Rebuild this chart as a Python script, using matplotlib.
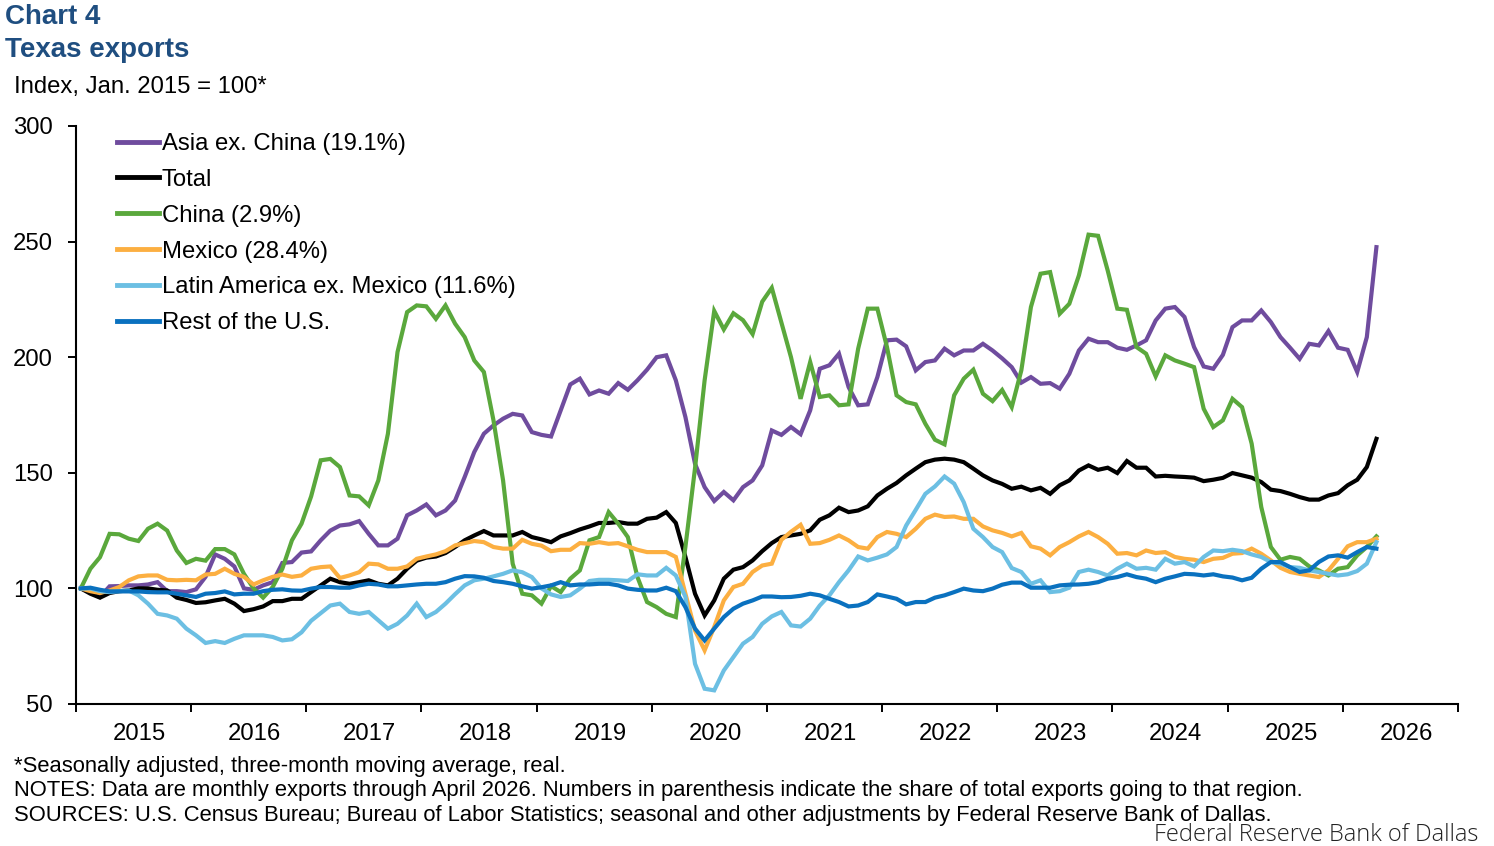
"""
Texas exports by destination, index Jan. 2015 = 100 (Dallas Fed, Chart 4).
"""

import numpy as np
import matplotlib
matplotlib.use("Agg")
import matplotlib.pyplot as plt

# monthly values Jan 2015 .. Apr 2026 (136 months)
asia = [100, 98.4, 96.3, 100.9, 101, 101.3, 101.3, 101.7, 102.7, 98.8, 98.8, 98.4, 99.6, 105, 114.7, 112.8, 109.5, 100, 99.4, 101.3, 102.7, 111, 111.4, 115.5, 116,
        120.8, 125, 127.2, 127.7, 129.1, 123.6, 118.6, 118.6, 121.5, 131.6, 133.7, 136.3, 131.6, 133.7, 138, 148.2, 159, 166.9, 170.5, 173.4, 175.5, 174.8, 167.6,
        166.4, 165.7, 177, 188.2, 190.7, 183.9, 185.6, 184.2, 188.8, 185.9, 190, 194.6, 200, 200.8, 190, 174.1, 153.9, 143.8, 137.8, 141.7, 138.1, 143.8, 146.7, 153.2, 168.3,
        166.4, 169.8, 166.7, 177, 195, 196.5, 201.5, 187.1, 179.2, 179.6, 191.4, 207.3, 207.6, 204.7, 194.3, 197.9, 198.6, 203.7, 200.8, 202.9, 202.9, 205.8, 202.9,
        199.5, 195.7, 189, 191.4, 188.5, 188.8, 186.4, 192.8, 202.9, 208, 206.5, 206.5, 204.1, 203.2, 205.1, 207.3, 215.9, 221, 221.7, 217.4, 204.4, 196, 195,
        201, 213, 215.9, 215.9, 220.2, 215.2, 208.7, 204.1, 199.3, 205.8, 205.1, 211.3, 204.1, 203.2, 193.6, 208.7, 247.6]

total = [100, 97.7, 96, 98, 98.8, 99.1, 100, 100, 99.4, 99.1, 96, 95, 93.7, 94, 94.8, 95.5, 93.4, 90.2, 91, 92.2, 94.5, 94.5, 95.5, 95.5, 98.4,
         101.3, 104.2, 102.7, 102, 102.7, 103.5, 102, 101.3, 104.2, 108.5, 112, 113.3, 113.8, 115.3, 117.9, 120.8, 122.9, 124.8, 122.9, 122.9, 122.9, 124.4, 122.2,
         121.2, 120, 122.5, 123.9, 125.5, 126.8, 128.3, 128.3, 128.7, 128, 128, 130.1, 130.6, 133, 128.3, 113.6, 97.7, 88.3, 94.8, 104.2, 108.1, 109.2, 112.1, 116.1, 119.6,
         122.2, 122.9, 123.6, 125.1, 129.7, 131.6, 134.9, 133, 133.7, 135.5, 140.2, 143.1, 145.6, 148.9, 151.8, 154.6, 155.7, 156.1, 155.7, 154.6, 151.8, 148.9, 146.7,
         145.2, 143.1, 144, 142.4, 143.5, 140.9, 144.6, 146.7, 151, 153.2, 151.3, 152.2, 149.9, 155.1, 152.2, 152.2, 148.4, 148.7, 148.4, 148.2, 147.9, 146.4, 147,
         147.8, 149.9, 148.9, 147.9, 146, 142.7, 142.1, 140.9, 139.5, 138.4, 138.4, 140.2, 141.2, 144.6, 147, 152.5, 164.7]

china = [100, 108.5, 113.5, 123.6, 123.4, 121.5, 120.5, 125.8, 128, 125, 116.4, 111, 112.8, 112, 117, 117, 114.7, 106.3, 100, 96, 100.6, 108.5, 120.8, 128, 139.8,
         155.4, 156, 152.5, 140.2, 139.8, 135.9, 146.7, 166.9, 202.2, 219.5, 222.4, 222, 216.6, 222.4, 214.5, 208.7, 198.6, 193.6, 172.7, 146.7, 110.7, 97.7, 97,
         93.4, 101, 98.4, 104.2, 107.8, 120.8, 122.2, 133, 128, 122.2, 104.9, 94.1, 91.9, 89, 87.6, 118, 152, 190, 220, 212, 219, 216, 210, 224, 230,
         215, 200, 182, 197.9, 182.8, 183.5, 179.2, 179.6, 203.7, 221, 221, 204.4, 183.5, 180.6, 179.6, 171.2, 164.3, 162.3, 183.5, 190.7, 194.6, 184.2, 181,
         185.8, 178.4, 194.3, 221.7, 236.1, 236.8, 218.8, 223.1, 235.4, 253, 252.5, 237.5, 221, 220.5, 204.4, 201.5, 191.7, 200.8, 198.6, 197.2, 195.7, 177.7, 169.8,
         172.7, 182, 178.4, 162.6, 135.2, 117.9, 112.4, 113.6, 112.8, 109.5, 107.8, 105.6, 108.5, 109.2, 114.3, 117.9, 122.5]

mexico = [100, 98.8, 98, 99.1, 100.6, 103.5, 105.2, 105.6, 105.6, 103.7, 103.5, 103.7, 103.5, 106, 106.3, 108.5, 106.3, 105, 101.7, 103.5, 105, 106, 105, 105.6, 108.5,
          109.2, 109.5, 104.5, 105.6, 107, 110.7, 110.4, 108.5, 108.5, 109.5, 112.8, 113.8, 114.7, 116.1, 118.6, 119.6, 120.5, 120, 117.9, 117.2, 117.2, 121, 119.3,
          118.5, 116.1, 116.7, 116.7, 119.6, 119.3, 120, 119.3, 119.6, 118.2, 116.7, 115.7, 115.7, 115.7, 113.6, 97.7, 81.8, 73.2, 83.3, 94.8, 100.6, 102, 107.1, 109.9, 110.7,
          121, 124.5, 127.5, 119.3, 119.6, 121, 122.9, 120.8, 117.9, 117.2, 122.2, 124.4, 123.6, 122.2, 125.8, 130.1, 131.9, 130.9, 131.1, 130.1, 130.1, 126.8, 125.1,
          124, 122.5, 124, 118.2, 117.2, 114.3, 117.9, 120, 122.5, 124.4, 122.2, 119.3, 115, 115.3, 114.3, 116.4, 115.3, 115.7, 113.6, 112.8, 112.4, 111.4, 112.8,
          113.2, 115, 115.3, 117.2, 115, 112.1, 108.9, 107.1, 106.3, 105.6, 104.9, 107.8, 112.8, 118.2, 120, 120, 121.5]

latam = [100, 100, 98.8, 98.4, 98.8, 99.1, 97, 93.4, 89, 88.3, 86.9, 82.6, 79.7, 76.4, 77.2, 76.4, 78.2, 79.7, 79.7, 79.7, 79, 77.5, 78, 81, 86,
         89.3, 92.6, 93.4, 89.8, 89, 89.8, 86.2, 82.6, 84.7, 88.3, 93.4, 87.6, 89.8, 93.4, 97.5, 101.3, 103.5, 104.2, 105.2, 106.3, 107.8, 107, 104.9,
         100, 97.4, 96.3, 97, 99.9, 103.2, 103.7, 103.7, 103.5, 103.2, 106.1, 105.6, 105.6, 108.9, 105.6, 96.3, 67.4, 56.6, 55.9, 64.5, 70.3, 76.1, 79, 84.7, 87.9,
         89.8, 84, 83.5, 86.9, 92.6, 97, 102.7, 107.8, 113.8, 112.1, 113.3, 114.7, 117.9, 127.2, 134, 140.9, 144.1, 148.4, 145.3, 137.3, 125.8, 122.2, 117.9,
         115.7, 108.8, 107.1, 102, 103.5, 98.4, 98.8, 100.3, 107.1, 108.1, 107.1, 105.6, 108.5, 110.7, 108.5, 108.9, 108.1, 112.8, 110.7, 111.4, 109.5, 113.6, 116.4,
         116.1, 116.7, 116.1, 114.7, 113.6, 111.4, 110.7, 109.2, 108.9, 107.8, 107.1, 106.3, 105.6, 106.1, 107.5, 110.7, 120]

rest_us = [100, 100.3, 99.4, 98.7, 98.7, 98.7, 98.7, 98.4, 98.3, 98.3, 97.7, 97, 96.3, 97.7, 98, 98.7, 97.4, 97.7, 97.7, 98.8, 99.4, 99.6, 99.1, 99, 99.9,
           100.6, 100.6, 100.3, 100.3, 101.3, 102, 101.7, 100.9, 100.9, 101.3, 101.7, 102, 102, 102.7, 104.2, 105.3, 105.2, 104.6, 103.2, 102.7, 102, 100.9, 99.9,
           100.5, 101.3, 102.7, 101.3, 101.7, 101.7, 102, 102, 101.3, 99.9, 99.4, 99.1, 99.1, 100.3, 98.8, 91.9, 82.6, 77.5, 82.6, 87.6, 91.2, 93.4, 94.8, 96.5, 96.5,
           96.2, 96.3, 96.8, 97.7, 97, 95.5, 94.1, 92.2, 92.6, 94.1, 97.4, 96.5, 95.5, 93.1, 94.1, 94.1, 96, 97, 98.4, 99.9, 99.1, 98.8, 99.9,
           101.6, 102.5, 102.5, 100.3, 100.3, 100.3, 101.3, 101.6, 101.7, 102, 102.7, 104.2, 104.9, 106.1, 104.9, 104.2, 102.7, 104.2, 105.2, 106.3, 106.1, 105.6, 106.1,
           105.2, 104.7, 103.5, 104.6, 108.5, 111.4, 111.4, 109.2, 107.1, 107.8, 111.4, 113.8, 114.3, 113.3, 115.7, 117.9, 117.2]

years = [str(y) for y in range(2015, 2027)]
labels = ["Asia ex. China (19.1%)", "Total", "China (2.9%)", "Mexico (28.4%)",
          "Latin America ex. Mexico (11.6%)", "Rest of the U.S."]
colors = ["#6F4C9E", "#000000", "#5AA83C", "#FCAF41", "#6CBFE3", "#0A71BF"]

plt.rcParams['font.family'] = ['Liberation Sans', 'DejaVu Sans']

fig = plt.figure(figsize=(14.94, 8.46), dpi=100)
ax = fig.add_axes([76/1494, 1-704/846, (1458-76)/1494, (704-126)/846])

months = np.arange(len(total))
series = [asia, total, china, mexico, latam, rest_us]
for vals, lab, col in zip(series, labels, colors):
    ax.plot(months, vals, color=col, lw=3.0, label=lab, solid_joinstyle='miter')

# axes: category axis with a tick between each year
ax.set_xlim(-0.5, 143.5)
ax.set_ylim(50, 300)
ax.set_yticks(np.arange(50, 301, 50))
ax.set_xticks(np.arange(-0.5, 144, 12))
ax.set_xticklabels([])
ax.set_xticks(np.arange(6.1, 144, 12), minor=True)   # Excel puts the year text a bit right of centre
ax.set_xticklabels(years, minor=True)
ax.tick_params(axis='x', which='major', direction='out', length=5.5, width=1.4)
ax.tick_params(axis='x', which='minor', length=0, pad=14, labelsize=17.2)
ax.tick_params(axis='y', direction='out', length=5.5, width=1.4, pad=11, labelsize=17.2)
for s in ['top', 'right']:
    ax.spines[s].set_visible(False)
for s in ['left', 'bottom']:
    ax.spines[s].set_linewidth(1.5)

leg = ax.legend(loc='upper left', bbox_to_anchor=(0.0297, 0.988), frameon=False,
                fontsize=17.2, handlelength=1.75, handletextpad=0.12,
                labelspacing=0.58, borderpad=0, borderaxespad=0)
for h in leg.get_lines():
    h.set_linewidth(3.5)

# titles and notes
navy = "#1F4E80"
fig.text(5/1494, 1-17/846, "Chart 4", fontsize=20, fontweight='bold', color=navy, va='center')
fig.text(5/1494, 1-50/846, "Texas exports", fontsize=20, fontweight='bold', color=navy, va='center')
fig.text(14/1494, 1-87/846, "Index, Jan. 2015 = 100*", fontsize=17.2, va='center')

notes = ["*Seasonally adjusted, three-month moving average, real.",
         "NOTES: Data are monthly exports through April 2026. Numbers in parenthesis indicate the share of total exports going to that region.",
         "SOURCES: U.S. Census Bureau; Bureau of Labor Statistics; seasonal and other adjustments by Federal Reserve Bank of Dallas."]
for k, line in enumerate(notes):
    fig.text(14/1494, 1-(766+24.5*k)/846, line, fontsize=15.8, va='center')
fig.text(1478/1494, 1-841/846, "Federal Reserve Bank of Dallas", fontsize=17,
         family=['Open Sans', 'DejaVu Sans'], fontweight='light', color='#222222',
         ha='right', va='baseline')

fig.savefig("out.png", dpi=100)
